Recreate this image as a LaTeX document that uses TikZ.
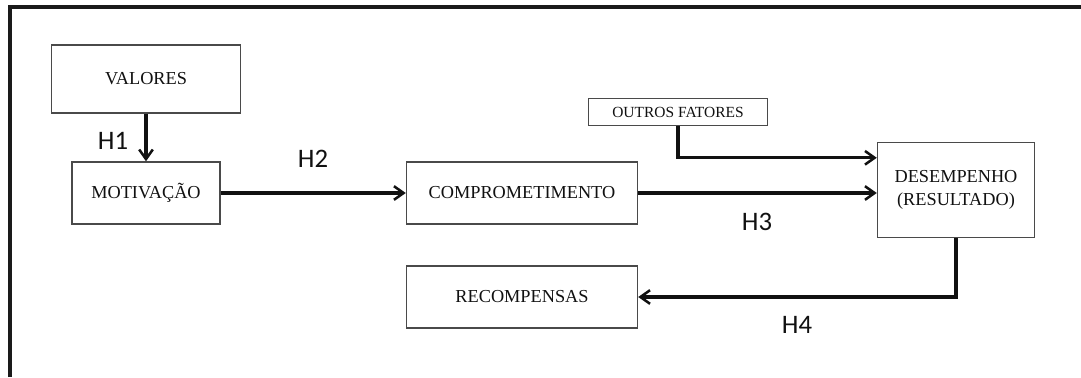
\documentclass[tikz,border=0pt]{standalone}
\usepackage{fontspec}
\setmainfont{Liberation Serif}
\newfontfamily\hfont{Carlito}
\usetikzlibrary{arrows.meta,positioning}
\definecolor{ink}{HTML}{111111}
\definecolor{boxline}{HTML}{4A4A4A}
\definecolor{frameline}{HTML}{1A1A1A}
\newcommand{\boxtext}{\fontsize{13}{16}\selectfont}
\newcommand{\smalltext}{\fontsize{11}{13}\selectfont}
\newcommand{\hyptext}{\hfont\fontsize{19}{22}\selectfont}
\tikzset{
 every node/.append style={text=ink,align=center},
 factor/.style={draw=boxline,fill=white,line width=1pt,inner sep=2pt,font=\boxtext},
 flow/.style={-{Straight Barb[length=2.4mm,width=3.4mm,line width=1.8pt]},draw=ink,line width=2.3pt},
 hyp/.style={font=\hyptext,inner sep=1pt},
 frame/.style={draw=frameline,line width=2.2pt},
}

\begin{document}
\begin{tikzpicture}[x=0.025cm,y=-0.025cm]

\useasboundingbox (0,0) rectangle (1081,377);
\draw[frame] (10,377) -- (10,7) -- (1081,7);

% factors
\node[factor,minimum width=4.725cm,minimum height=1.7cm] (valores) at (146,79) {VALORES};
\node[factor,minimum width=3.7cm,minimum height=1.55cm] (motivacao) at (146,193) {MOTIVAÇÃO};
\node[factor,minimum width=5.775cm,minimum height=1.55cm] (comprom) at (522,193) {COMPROMETIMENTO};
\node[factor,minimum width=5.775cm,minimum height=1.55cm] (recomp) at (522,297) {RECOMPENSAS};
\node[factor,font=\smalltext,minimum width=4.475cm,minimum height=.675cm] (outros) at (678,112) {OUTROS FATORES};
\node[factor,minimum width=3.925cm,minimum height=2.375cm] (desemp) at (956,190) {DESEMPENHO\\(RESULTADO)};

% hypotheses
\draw[flow] (valores) -- (motivacao);
\draw[flow] (motivacao) -- (comprom);
\draw[flow] (outros) |- ([yshift=-.4cm]desemp.north west);
\draw[flow] (comprom.east) -- (comprom.east -| desemp.west);
\draw[flow] (desemp.south) |- (recomp.east);

\node[hyp] (h1) at (113,141) {H1};
\node[hyp] (h2) at (313,159) {H2};
\node[hyp] (h3) at (757,222) {H3};
\node[hyp] (h4) at (797,325) {H4};

\end{tikzpicture}
\end{document}
